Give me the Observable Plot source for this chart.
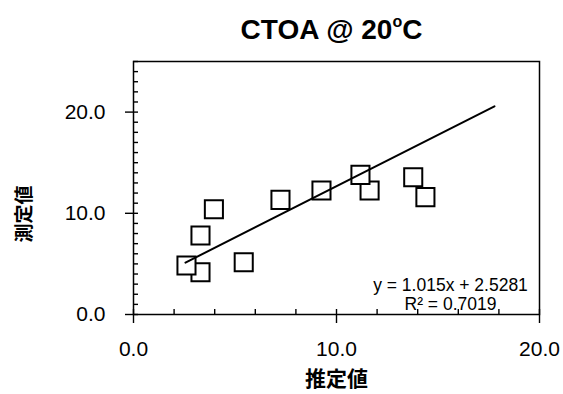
<!DOCTYPE html>
<html>
<head>
<meta charset="utf-8">
<script src="https://cdn.jsdelivr.net/npm/d3@7"></script>
<script src="https://cdn.jsdelivr.net/npm/@observablehq/plot@0.6"></script>
<style>
  body { margin: 0; background: #fff; }
  #wrap { width: 563px; height: 394px; position: relative; }
  #title {
    height: 50px; box-sizing: border-box; padding-left: 100px; padding-top: 16px;
    text-align: center; font: bold 28px/1 "Liberation Sans", Arial, sans-serif; color: #000;
  }
  #title sup { font-size: 16px; vertical-align: 0; position: relative; top: -12px; }
  svg { display: block; }
</style>
</head>
<body>
<div id="wrap">
  <div id="title">CTOA @ 20<sup>o</sup>C</div>
  <div id="chart"></div>
</div>
<script>
// Estimated (x) vs measured (y) values, in drawing order
const estimated = [3.30, 2.61, 3.30, 3.96, 5.43, 7.24, 9.26, 11.63, 11.18, 13.78, 14.38];
const measured  = [4.18, 4.84, 7.80, 10.40, 5.17, 11.33, 12.25, 12.25, 13.80, 13.57, 11.60];

// Linear trendline from the fitted equation
const slope = 1.015;
const intercept = 2.5281;
const r2 = 0.7019;
const trendRange = [2.56, 17.78];

const xLabel = "推定値";
const yLabel = "測定値";
const majorTicks = [0, 10, 20];
const xMinorTicks = d3.range(0, 21, 2);
const yMinorTicks = d3.range(0, 26, 1);

const points = estimated.map((x, i) => ({x, y: measured[i]}));
const trend = trendRange.map(x => ({x, y: slope * x + intercept}));

const num = d => d.toFixed(1);
const blank = () => "";
const cjk = '"Noto Sans CJK JP", sans-serif';

const chart = Plot.plot({
  width: 563,
  height: 344,
  marginTop: 11,
  marginLeft: 133,
  marginRight: 24,
  marginBottom: 80,
  style: {fontFamily: '"Liberation Sans", Arial, sans-serif', fontSize: "21px", color: "#000", background: "#fff"},
  x: {domain: [0, 20]},
  y: {domain: [0, 25]},
  marks: [
    Plot.frame({stroke: "#000", strokeWidth: 1.5}),
    // inward minor ticks
    Plot.axisY({ticks: yMinorTicks, tickSize: -5, tickFormat: blank, label: null, strokeWidth: 1.4}),
    Plot.axisX({ticks: xMinorTicks, tickSize: -5, tickFormat: blank, label: null, strokeWidth: 1.4}),
    // outward major ticks
    Plot.axisY({ticks: majorTicks, tickSize: 8, tickFormat: blank, label: null, strokeWidth: 1.4}),
    Plot.axisX({ticks: majorTicks, tickSize: 9, tickFormat: blank, label: null, strokeWidth: 1.4}),
    // major tick labels
    Plot.text(majorTicks, {y: d => d, text: num, frameAnchor: "left", textAnchor: "end", dx: -28, fontSize: 21}),
    Plot.text(majorTicks, {x: d => d, text: num, frameAnchor: "bottom", lineAnchor: "middle", dy: 35, fontSize: 21}),
    Plot.dot(points, {x: "x", y: "y", symbol: "square", r: 10.2, fill: "#fff", stroke: "#000", strokeWidth: 2}),
    Plot.line(trend, {x: "x", y: "y", stroke: "#000", strokeWidth: 2}),
    Plot.text([`y = ${slope}x + ${intercept}\nR² = ${r2}`], {
      frameAnchor: "bottom-right", textAnchor: "middle", lineAnchor: "bottom",
      dx: -89, dy: -5, fontSize: 17.5, lineHeight: 1.05
    }),
    Plot.text([xLabel], {frameAnchor: "bottom", dy: 71, fontSize: 21, fontWeight: "bold", fontFamily: cjk}),
    // rotated axis label, running upward from its lower end
    Plot.text([yLabel], {frameAnchor: "bottom-left", textAnchor: "start", dx: -103, dy: -72, rotate: -90,
      fontSize: 19, fontWeight: "bold", fontFamily: cjk})
  ]
});
document.getElementById("chart").appendChild(chart);
</script>
</body>
</html>
